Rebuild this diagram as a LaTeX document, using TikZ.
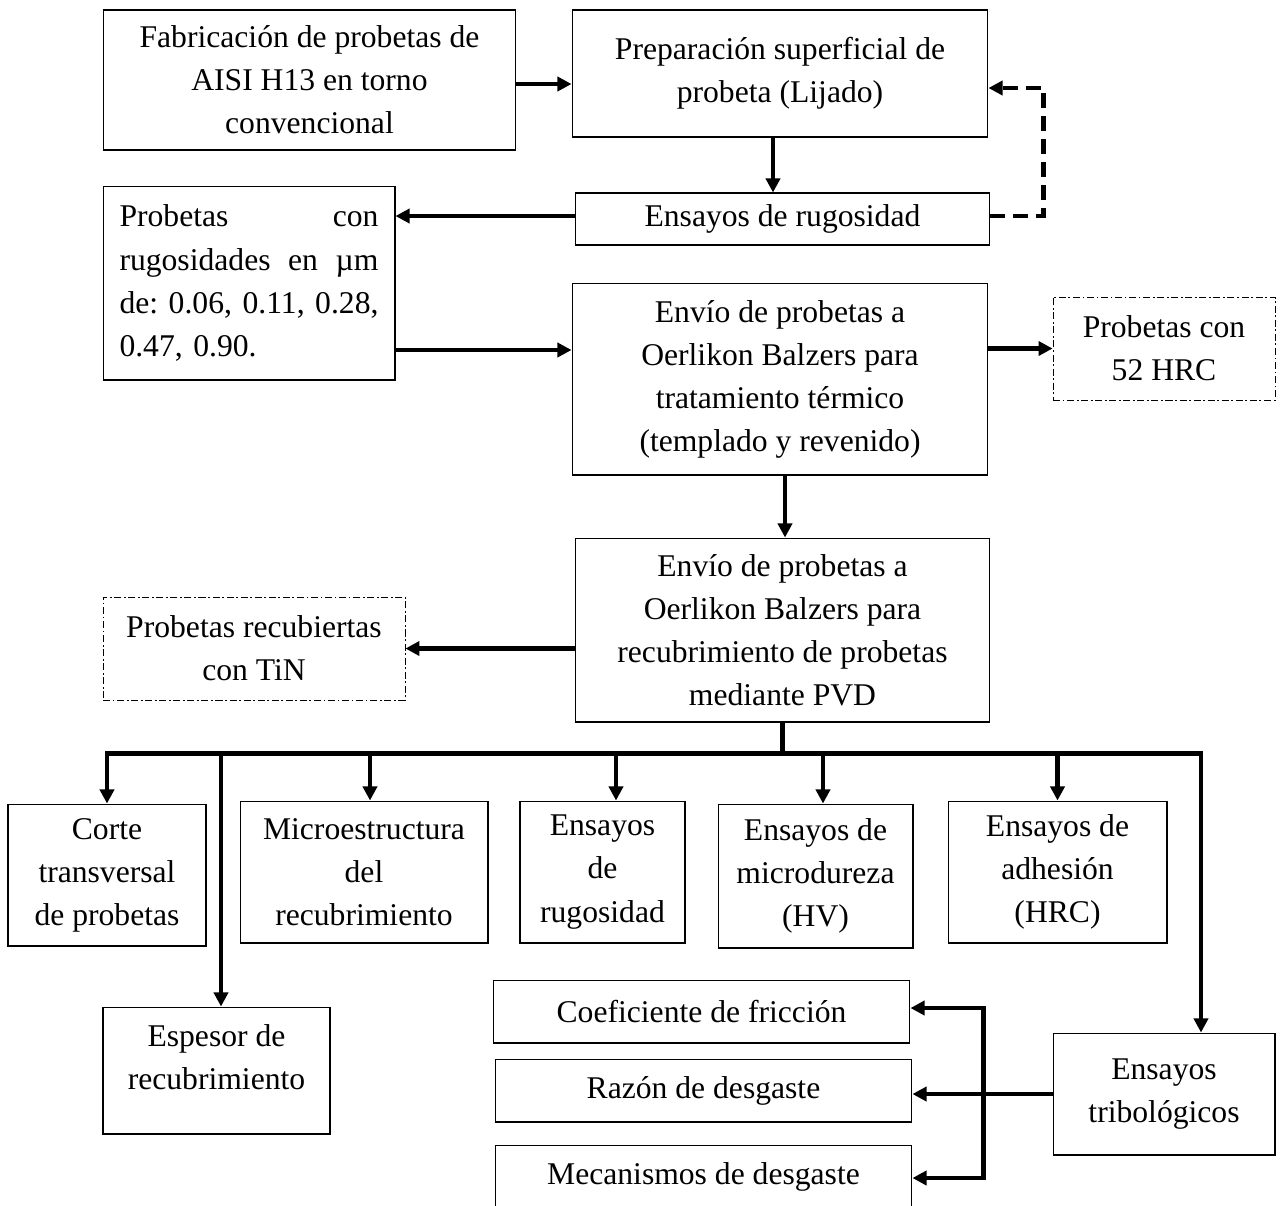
\documentclass[tikz,border=0pt]{standalone}
\usepackage{fontspec}
\setmainfont{Liberation Serif}
\usetikzlibrary{arrows.meta}

\begin{document}
\begin{tikzpicture}[x=0.02cm, y=-0.02cm,
  box/.style={draw, line width=0.6pt, inner sep=0pt, align=center,
    font=\fontsize{18}{24.5}\selectfont},
  note/.style={box, dash pattern=on 4pt off 1.5pt on 1pt off 1.5pt, line width=0.5pt},
  flow/.style={line width=2.4pt, -{Triangle[length=8pt,width=8pt]}},
  back/.style={flow, dash pattern=on 0.3cm off 0.16cm}]
\useasboundingbox (0,0) rectangle (1281,1205);
% primera fila
\node[box, minimum width=8.26cm, minimum height=2.8cm] (fab) at (309.5,80)
  {Fabricación de probetas de\\AISI H13 en torno\\convencional};
\node[box, minimum width=8.32cm, minimum height=2.54cm] (prep) at (780,73.5)
  {Preparación superficial de\\probeta (Lijado)};
\node[box, minimum width=8.3cm, minimum height=1.04cm] (rug) at (782.5,219)
  {Ensayos de rugosidad};
\node[box, minimum width=5.84cm, minimum height=3.88cm, text width=5.18cm, align=left] (prob) at (249,283)
  {\makebox[5.18cm][s]{Probetas\hfill con}\\
   \makebox[5.18cm][s]{rugosidades\hfill en\hfill µm}\\
   \makebox[5.18cm][s]{de:\hfill 0.06,\hfill 0.11,\hfill 0.28,}\\
   0.47, 0.90.};
\node[box, minimum width=8.32cm, minimum height=3.84cm] (envio) at (780,379)
  {Envío de probetas a\\Oerlikon Balzers para\\tratamiento térmico\\(templado y revenido)};
\node[note, minimum width=4.44cm, minimum height=2.06cm] (dureza) at (1164,348.5)
  {Probetas con\\52 HRC};
\node[box, minimum width=8.3cm, minimum height=3.68cm] (pvd) at (782.5,630)
  {Envío de probetas a\\Oerlikon Balzers para\\recubrimiento de probetas\\mediante PVD};
\node[note, minimum width=6.04cm, minimum height=2.06cm] (tin) at (254,648.5)
  {Probetas recubiertas\\con TiN};
% ensayos
\node[box, minimum width=3.96cm, minimum height=2.84cm] (corte) at (107,875)
  {Corte\\transversal\\de probetas};
\node[box, minimum width=4.96cm, minimum height=2.84cm] (micro) at (364,872)
  {Microestructura\\del\\recubrimiento};
\node[box, minimum width=3.3cm, minimum height=2.84cm] (rugb) at (602.5,872)
  {Ensayos\\de\\rugosidad};
\node[box, minimum width=3.9cm, minimum height=2.88cm] (hv) at (815.5,876)
  {Ensayos de\\microdureza\\(HV)};
\node[box, minimum width=4.38cm, minimum height=2.84cm] (adh) at (1057.5,872)
  {Ensayos de\\adhesión\\(HRC)};
\node[box, minimum width=4.54cm, minimum height=2.54cm] (esp) at (216.5,1070.5)
  {Espesor de\\recubrimiento\\[-9pt]~};
\node[box, minimum width=8.34cm, minimum height=1.26cm] (coef) at (701.5,1011.5)
  {Coeficiente de fricción};
\node[box, minimum width=8.34cm, minimum height=1.26cm] (razon) at (703.5,1090.5)
  {Razón de desgaste};
\node[box, minimum width=8.34cm, minimum height=1.26cm] (mec) at (703.5,1176.5)
  {Mecanismos de desgaste};
\node[box, minimum width=4.44cm, minimum height=2.44cm] (trib) at (1164,1094)
  {Ensayos\\tribológicos};
%
\draw[flow] ([yshift=-0.08cm]fab.east) -- ([yshift=-0.08cm]fab.east -| prep.west);
\draw[flow] ([xshift=-0.14cm]prep.south) -- ([xshift=-0.14cm]prep.south |- rug.north);
\draw[back] ([yshift=0.06cm]rug.east) -- ++(53,0) |- ([yshift=-0.29cm]prep.east);
\draw[flow] ([yshift=0.06cm]rug.west) -- ([yshift=0.06cm]rug.west -| prob.east);
\draw[flow] ([yshift=-1.34cm]prob.east) -- ([yshift=-1.34cm]prob.east -| envio.west);
\draw[flow] (dureza.west -| envio.east) -- (dureza.west);
\draw[flow] ([xshift=0.1cm]envio.south) -- ([xshift=0.1cm]envio.south |- pvd.north);
\draw[flow] (tin.east -| pvd.west) -- (tin.east);
%
\coordinate (bus) at ([yshift=-0.62cm]pvd.south);
\coordinate (tribtop) at ([xshift=0.74cm]trib.north);
\draw[line width=2.4pt] (pvd.south) -- (bus);
\draw[flow] (bus) -| (corte.north);
\draw[flow] (bus) -| (tribtop);
\foreach \n/\d in {micro/0.12,rugb/0.27,hv/0.15,adh/0,esp/0.09}
  \draw[flow] ([xshift=\d cm]\n.north |- bus) -- ([xshift=\d cm]\n.north);
%
\coordinate (split) at ([xshift=1.42cm]razon.east);
\draw[flow] (trib.west) -- (trib.west -| razon.east);
\draw[flow] (split |- trib.west) |- ([yshift=0.07cm]coef.east);
\draw[flow] (split |- trib.west) |- ([yshift=-0.03cm]mec.east);
\end{tikzpicture}
\end{document}
